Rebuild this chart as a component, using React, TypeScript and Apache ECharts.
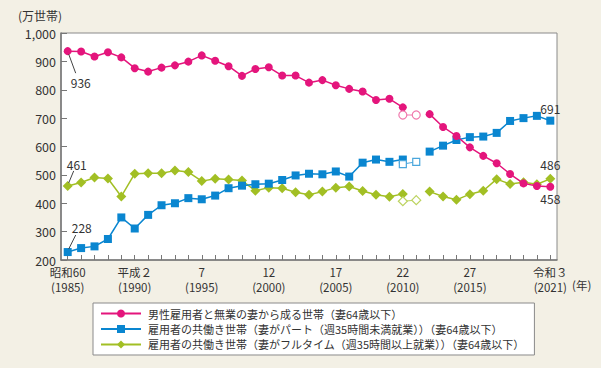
import React, { useEffect, useRef } from "react";
import * as echarts from "echarts";

const years = [
  "1985", "1986", "1987", "1988", "1989", "1990", "1991", "1992", "1993", "1994",
  "1995", "1996", "1997", "1998", "1999", "2000", "2001", "2002", "2003", "2004",
  "2005", "2006", "2007", "2008", "2009", "2010", "2011", "2012", "2013", "2014",
  "2015", "2016", "2017", "2018", "2019", "2020", "2021",
];

const eraLabels: Record<string, string> = {
  "1985": "昭和60",
  "1990": "平成２",
  "1995": "7",
  "2000": "12",
  "2005": "17",
  "2010": "22",
  "2015": "27",
  "2021": "令和３",
};
const labelledYears = ["1985", "1990", "1995", "2000", "2005", "2010", "2015", "2021"];

const seriesNames = [
  "男性雇用者と無業の妻から成る世帯（妻64歳以下）",
  "雇用者の共働き世帯（妻がパート（週35時間未満就業））（妻64歳以下）",
  "雇用者の共働き世帯（妻がフルタイム（週35時間以上就業））（妻64歳以下）",
];

const singleEarner = [
  936, 935, 917, 932, 914, 876, 864, 878, 886, 899, 921, 902, 883, 849, 873, 879,
  850, 850, 825, 834, 816, 803, 794, 764, 768, 738, null,
  714, 669, 637, 597, 567, 541, 503, 470, 461, 458,
];
const partTime = [
  228, 242, 248, 274, 350, 311, 359, 393, 400, 418, 414, 427, 453, 462, 467, 469,
  482, 498, 504, 502, 512, 494, 543, 554, 546, 554, null,
  582, 603, 623, 633, 635, 648, 690, 700, 708, 691,
];
const fullTime = [
  461, 473, 491, 487, 424, 504, 506, 506, 515, 510, 478, 486, 484, 480, 444, 455,
  453, 439, 430, 441, 455, 459, 443, 430, 423, 433, null,
  441, 424, 412, 432, 444, 485, 468, 474, 467, 486,
];

const excludedYears = ["2010", "2011"];
const singleEarnerExcl = [711, 711];
const partTimeExcl = [538, 546];
const fullTimeExcl = [407, 411];

const PINK = "#e4157c";
const BLUE = "#0a86d0";
const GREEN = "#a2bf24";
const FONT = "'Noto Sans CJK JP', 'Noto Sans', sans-serif";

const yTicks = [200, 300, 400, 500, 600, 700, 800, 900, 1000];

function App() {
  const ref = useRef<HTMLDivElement>(null);

  useEffect(() => {
    document.body.style.margin = "0";
    const chart = echarts.init(ref.current!, null, { renderer: "svg" });

    const numLabel = { color: "#333", fontSize: 12, fontFamily: FONT };

    const mainData = (arr: (number | null)[], special: Record<number, any>) =>
      arr.map((v, i) => {
        const val = v === null ? "-" : v;
        if (special[i]) return { value: val, ...special[i] };
        return val;
      });

    const last = years.length - 1;

    const excl = (vals: number[]) =>
      years.map((y) => {
        const k = excludedYears.indexOf(y);
        return k >= 0 ? vals[k] : "-";
      });

    const leaderLayout = (offsets: Record<number, [number, number]>) => (params: any) => {
      const o = offsets[params.dataIndex];
      if (o) return { dx: o[0], dy: o[1] };
      return {};
    };

    const leaderOffsets = [
      [1, 3, 8, 22],
      [1, -3, 8, -17],
      [1, -3, 6, -15],
    ];

    const common = {
      type: "line",
      connectNulls: false,
      showSymbol: true,
      showAllSymbol: true,
    };

    const isLabelled = (index: number, value: string) => labelledYears.indexOf(value) >= 0;

    chart.setOption({
      animation: false,
      backgroundColor: "#f3f0e5",
      textStyle: { fontFamily: FONT },
      grid: {
        left: 61,
        top: 33,
        right: 44,
        bottom: 108,
        show: true,
        backgroundColor: "#ffffff",
        borderColor: "#8a8a8a",
        borderWidth: 1,
      },
      legend: {
        orient: "vertical",
        left: 93,
        top: 303,
        data: seriesNames,
        backgroundColor: "#ffffff",
        borderColor: "#8a8a8a",
        borderWidth: 1,
        borderRadius: 0,
        padding: [5, 10, 5, 7],
        itemWidth: 40,
        itemHeight: 10,
        itemGap: 4.5,
        textStyle: { color: "#333", fontSize: 11, fontFamily: FONT, padding: [0, 0, 0, 2] },
      },
      xAxis: [
        {
          type: "category",
          data: years,
          boundaryGap: true,
          position: "bottom",
          axisLine: { show: true, lineStyle: { color: "#777", width: 1.5 } },
          axisTick: {
            show: true,
            inside: true,
            alignWithLabel: true,
            interval: 0,
            length: 5,
            lineStyle: { color: "#777" },
          },
          axisLabel: {
            interval: isLabelled,
            formatter: (value: string) => eraLabels[value] || "",
            color: "#333",
            fontSize: 11.5,
            margin: 6,
            fontFamily: FONT,
          },
          splitLine: { show: false },
        },
        {
          type: "category",
          data: years,
          boundaryGap: true,
          position: "bottom",
          offset: 15,
          axisLine: { show: false },
          axisTick: { show: false },
          axisLabel: {
            interval: isLabelled,
            formatter: (value: string) => "(" + value + ")",
            color: "#333",
            fontSize: 11.5,
            margin: 6,
            fontFamily: FONT,
          },
          splitLine: { show: false },
        },
      ],
      yAxis: {
        type: "value",
        min: yTicks[0],
        max: yTicks[yTicks.length - 1],
        interval: 100,
        axisLine: { show: true, lineStyle: { color: "#777", width: 1.5 } },
        axisTick: { show: true, inside: true, length: 6, lineStyle: { color: "#777" } },
        axisLabel: {
          color: "#333",
          fontSize: 12.5,
          margin: 5,
          fontFamily: FONT,
          formatter: (v: number) => v.toLocaleString("en-US"),
        },
        splitLine: { show: false },
      },
      graphic: [
        {
          type: "text",
          left: 18,
          top: 9,
          style: { text: "(万世帯)", fill: "#333", fontSize: 12, fontFamily: FONT },
        },
        {
          type: "text",
          left: 572,
          top: 279,
          style: { text: "(年)", fill: "#333", fontSize: 11.5, fontFamily: FONT },
        },
      ],
      series: [
        {
          ...common,
          name: seriesNames[0],
          data: mainData(singleEarner, {
            0: { label: { show: true, position: "bottom", ...numLabel } },
            [last]: { label: { show: true, position: "bottom", distance: 2, offset: [-2, 0], ...numLabel } },
          }),
          symbol: "circle",
          symbolSize: 8,
          color: PINK,
          lineStyle: { color: PINK, width: 1.5 },
          itemStyle: { color: PINK },
          labelLayout: leaderLayout({ 0: [13, 16] }),
          z: 3,
        },
        {
          ...common,
          name: seriesNames[1],
          data: mainData(partTime, {
            0: { label: { show: true, position: "top", ...numLabel } },
            [last]: { label: { show: true, position: "top", distance: 2, offset: [-2, 0], ...numLabel } },
          }),
          symbol: "rect",
          symbolSize: 8,
          color: BLUE,
          lineStyle: { color: BLUE, width: 1.5 },
          itemStyle: { color: BLUE },
          labelLayout: leaderLayout({ 0: [14, -10] }),
          z: 2,
        },
        {
          ...common,
          name: seriesNames[2],
          data: mainData(fullTime, {
            0: { label: { show: true, position: "top", ...numLabel } },
            [last]: { label: { show: true, position: "top", distance: 3, offset: [-2, 0], ...numLabel } },
          }),
          symbol: "diamond",
          symbolSize: 10,
          color: GREEN,
          lineStyle: { color: GREEN, width: 1.5 },
          itemStyle: { color: GREEN },
          labelLayout: leaderLayout({ 0: [9, -5] }),
          z: 1,
        },
        {
          ...common,
          name: "excl1",
          data: excl(singleEarnerExcl),
          symbol: "circle",
          symbolSize: 8,
          color: PINK,
          lineStyle: { color: "#f07aae", width: 1 },
          itemStyle: { color: "#fff", borderColor: "#f07aae", borderWidth: 1.2 },
          z: 4,
        },
        {
          ...common,
          name: "excl2",
          data: excl(partTimeExcl),
          symbol: "rect",
          symbolSize: 7,
          color: BLUE,
          lineStyle: { color: "#4aa6dc", width: 1 },
          itemStyle: { color: "#fff", borderColor: "#4aa6dc", borderWidth: 1.2 },
          z: 4,
        },
        {
          ...common,
          name: "excl3",
          data: excl(fullTimeExcl),
          symbol: "diamond",
          symbolSize: 9,
          color: GREEN,
          lineStyle: { color: "#bcd35f", width: 1 },
          itemStyle: { color: "#fff", borderColor: "#bcd35f", borderWidth: 1.2 },
          z: 4,
        },
        {
          name: "leaders",
          type: "custom",
          coordinateSystem: "cartesian2d",
          xAxisIndex: 0,
          yAxisIndex: 0,
          clip: false,
          z: 10,
          silent: true,
          data: [
            [0, singleEarner[0]],
            [0, partTime[0]],
            [0, fullTime[0]],
          ],
          renderItem: (params: any, api: any) => {
            const p = api.coord([api.value(0), api.value(1)]);
            const o = leaderOffsets[params.dataIndex];
            return {
              type: "line",
              shape: { x1: p[0] + o[0], y1: p[1] + o[1], x2: p[0] + o[2], y2: p[1] + o[3] },
              style: { stroke: "#444", fill: null, lineWidth: 1 },
            };
          },
        },
      ],
    });

    return () => chart.dispose();
  }, []);

  return <div ref={ref} style={{ width: 601, height: 368 }} />;
}

export default App;
